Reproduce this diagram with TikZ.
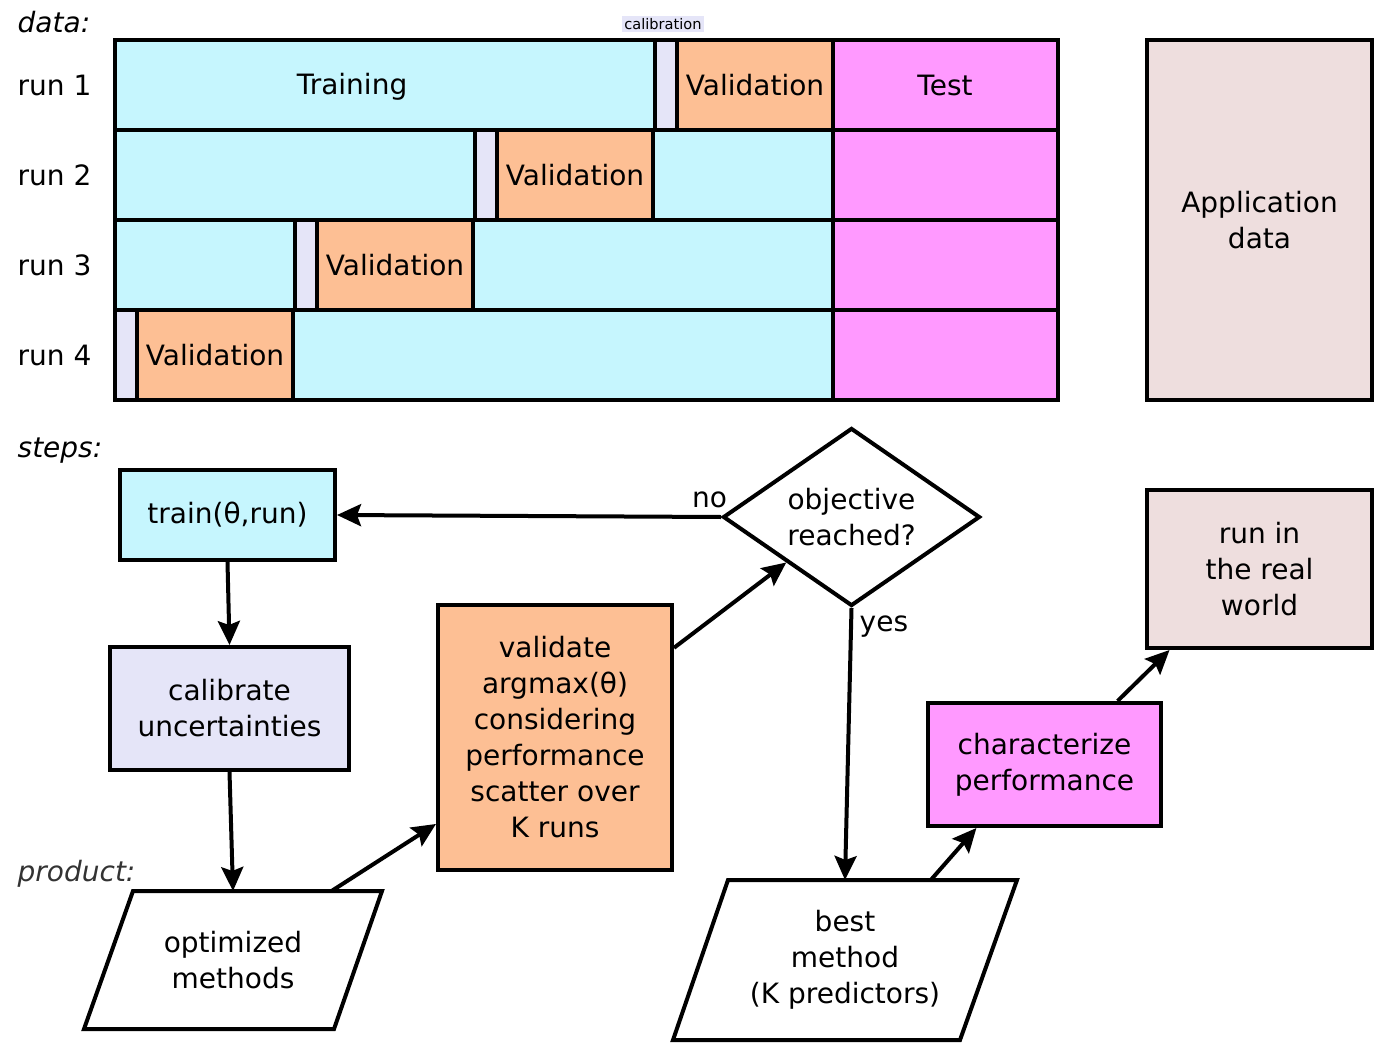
\documentclass[tikz,border=0pt]{standalone}
\usepackage{fontspec}
\setmainfont{DejaVu Sans}[ItalicFont={DejaVu Sans Oblique}]
\usetikzlibrary{calc,shapes.geometric,arrows.meta}
\definecolor{trainc}{HTML}{C6F6FE}
\definecolor{calibc}{HTML}{E5E5F8}
\definecolor{valic}{HTML}{FDBF94}
\definecolor{testc}{HTML}{FF99FF}
\definecolor{appc}{HTML}{EEDEDE}

\begin{document}
\begin{tikzpicture}[x=0.5pt,y=-0.5pt,line width=2pt,
	every node/.style={font=\fontsize{14}{18}\selectfont,align=center},
	box/.style={draw,rectangle,inner sep=0pt},
	io/.style={rectangle,inner sep=0pt},
	arr/.style={-{Stealth[length=12pt,width=11pt,inset=2pt]}},
	hdr/.style={anchor=west,font=\fontsize{14}{18}\selectfont\itshape}]
\useasboundingbox (0,0) rectangle (1380,1043);

% data
\node[hdr] (data) at (9,22) {data:};
\foreach \r in {1,...,4}{
	\pgfmathsetmacro{\ya}{40+90*(\r-1)}
	\pgfmathsetmacro{\yb}{\ya+90}
	\pgfmathsetmacro{\xc}{655-180*(\r-1)}
	\pgfmathsetmacro{\xv}{\xc+22}
	\pgfmathsetmacro{\xw}{\xc+178}
	\draw[fill=trainc] (115,\ya) rectangle (833,\yb);
	\draw[fill=calibc] (\xc,\ya) rectangle (\xv,\yb);
	\draw[fill=valic] (\xv,\ya) rectangle node(v\r){Validation} (\xw,\yb);
	\draw[fill=testc] (833,\ya) rectangle (1058,\yb);
	\node[anchor=west] (run\r) at (9,\ya+45) {run \r};
}
\node[anchor=base] (trtxt) at (352,95) {Training};
\node (tetxt) at (945,85) {Test};
\node[fill=calibc,inner sep=1pt,font=\fontsize{7.3}{9}\selectfont] (caltxt) at (663,24) {calibration};
\node[box,fill=appc,minimum width=112.5pt,minimum height=180pt] (app) at (1259.5,220) {Application\\data};

% steps
\node[hdr] (steps) at (9,451) {steps:};
\node[box,fill=trainc,minimum width=107.5pt,minimum height=45pt] (train) at (227.5,515) {train(θ,run)};
\node[box,fill=calibc,minimum width=119.5pt,minimum height=61.5pt] (cal) at (229.5,708.5) {calibrate\\uncertainties};
\node[box,fill=valic,minimum width=117pt,minimum height=132.5pt] (val) at (555,737.5) {validate\\argmax(θ)\\considering\\performance\\scatter over\\K runs};
\node[draw,diamond,aspect=1.44,inner sep=0pt,minimum width=128.5pt,minimum height=89pt] (dec) at (851.5,517) {objective\\reached?};
\node[box,fill=appc,minimum width=112.5pt,minimum height=79pt] (world) at (1259.5,569) {run in\\the real\\world};
\node[box,fill=testc,minimum width=116.5pt,minimum height=61.5pt] (char) at (1044.5,764.5) {characterize\\performance};

% product
\node[hdr,text=black!80] (prod) at (9,874) {product:};
\node[io,minimum width=147pt,minimum height=67pt] (opt) at (233,960) {optimized\\methods};
\node[io,minimum width=170pt,minimum height=78pt] (best) at (845,960) {best\\method\\(K predictors)};
\draw ($(opt.north west)+(49,0)$)--(opt.north east)--($(opt.south east)+(-48,0)$)--(opt.south west)--cycle;
\draw ($(best.north west)+(55,0)$)--(best.north east)--($(best.south east)+(-57,0)$)--(best.south west)--cycle;

\draw[arr] (dec.west)--(train.east) node[pos=0.03,above]{no};
\draw[arr] (dec.south)--(best.north) node[pos=0.07,right]{yes};
\draw[arr] (train.south)--(cal.north);
\draw[arr] (cal.south)--(opt.north);
\draw[arr] (opt.35)--(val.216);
\draw[arr] (val.37)--(dec.south west);
\draw[arr] (best.43)--(char.223);
\draw[arr] (char.41)--(world.222);

\end{tikzpicture}
\end{document}
